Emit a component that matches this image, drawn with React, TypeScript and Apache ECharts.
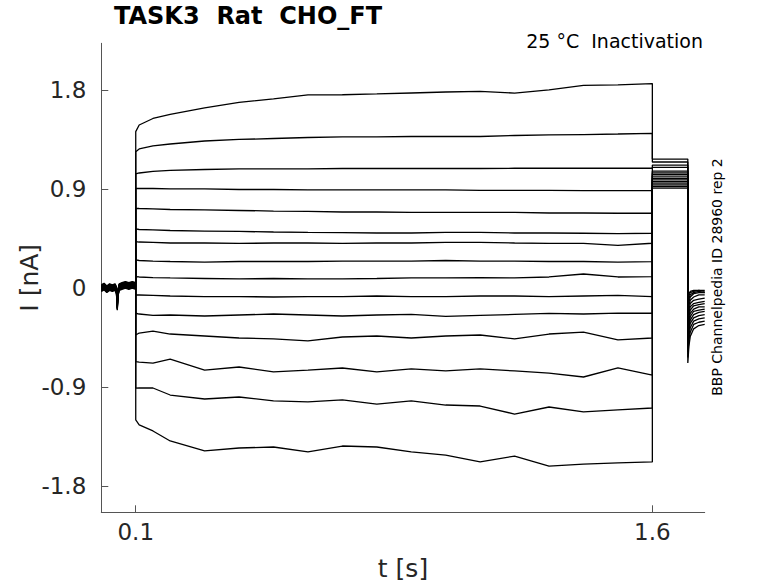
import React, { useEffect, useRef } from "react";
import * as echarts from "echarts";

// ---- time bases (s) ----
const T_PRE = [0, 0.008, 0.016, 0.024, 0.032, 0.04, 0.044, 0.0465, 0.048, 0.052, 0.06, 0.07, 0.08, 0.09, 0.1];
const T_PULSE = [0.1, 0.11, 0.15, 0.2, 0.3, 0.4, 0.5, 0.6, 0.7, 0.8, 0.9, 1.0, 1.1, 1.2, 1.3, 1.4, 1.5, 1.6];
const T_TAIL_END = 1.703;
const T_POST = [1.703, 1.706, 1.71, 1.72, 1.735, 1.752];

// ---- holding current before the pulse (nA) ----
const PRE_BASE = [0.0, 0.015, -0.01, 0.01, 0.0, 0.01, -0.02, -0.17, -0.05, 0.01, 0.02, 0.03, 0.02, 0.03, 0.02];
const HOLD_OFFSET = [0.03, -0.02, 0.01, 0.02, -0.03, 0.0, 0.025, -0.01, 0.015, -0.025, 0.005, 0.02, -0.015, 0.01, -0.005];

// ---- pulse currents (nA), one list per sweep, at T_PULSE ----
const SWEEP_1 = [1.424, 1.485, 1.544, 1.581, 1.64, 1.69, 1.722, 1.758, 1.76, 1.767, 1.776, 1.785, 1.79, 1.775, 1.805, 1.845, 1.85, 1.862];
const SWEEP_2 = [1.242, 1.267, 1.294, 1.312, 1.339, 1.353, 1.362, 1.371, 1.376, 1.376, 1.38, 1.38, 1.38, 1.389, 1.394, 1.398, 1.403, 1.409];
const SWEEP_3 = [1.039, 1.048, 1.062, 1.071, 1.08, 1.085, 1.085, 1.085, 1.089, 1.089, 1.089, 1.089, 1.089, 1.091, 1.091, 1.091, 1.091, 1.091];
const SWEEP_4 = [0.909, 0.907, 0.907, 0.903, 0.903, 0.898, 0.898, 0.894, 0.894, 0.894, 0.894, 0.894, 0.889, 0.889, 0.889, 0.887, 0.887, 0.887];
const SWEEP_5 = [0.727, 0.725, 0.721, 0.716, 0.712, 0.707, 0.702, 0.698, 0.693, 0.693, 0.689, 0.689, 0.689, 0.689, 0.684, 0.684, 0.682, 0.682];
const SWEEP_6 = [0.539, 0.534, 0.53, 0.525, 0.52, 0.516, 0.511, 0.507, 0.505, 0.502, 0.502, 0.507, 0.507, 0.502, 0.502, 0.5, 0.497, 0.5];
const SWEEP_7 = [0.423, 0.42, 0.416, 0.411, 0.411, 0.407, 0.411, 0.411, 0.407, 0.411, 0.411, 0.416, 0.416, 0.411, 0.407, 0.407, 0.389, 0.409];
const SWEEP_8 = [0.257, 0.252, 0.247, 0.243, 0.238, 0.243, 0.243, 0.243, 0.247, 0.247, 0.247, 0.252, 0.247, 0.247, 0.243, 0.243, 0.238, 0.241];
const SWEEP_9 = [0.105, 0.102, 0.097, 0.093, 0.088, 0.084, 0.088, 0.084, 0.084, 0.088, 0.093, 0.093, 0.097, 0.093, 0.102, 0.129, 0.102, 0.105];
const SWEEP_10 = [-0.062, -0.062, -0.066, -0.071, -0.076, -0.076, -0.08, -0.076, -0.076, -0.071, -0.076, -0.076, -0.071, -0.071, -0.076, -0.071, -0.066, -0.076];
const SWEEP_11 = [-0.228, -0.235, -0.248, -0.244, -0.253, -0.244, -0.235, -0.244, -0.253, -0.244, -0.239, -0.257, -0.248, -0.239, -0.23, -0.235, -0.226, -0.228];
const SWEEP_12 = [-0.426, -0.408, -0.39, -0.417, -0.435, -0.453, -0.462, -0.48, -0.444, -0.435, -0.453, -0.435, -0.426, -0.462, -0.417, -0.399, -0.471, -0.453];
const SWEEP_13 = [-0.669, -0.672, -0.681, -0.645, -0.745, -0.717, -0.762, -0.745, -0.726, -0.762, -0.735, -0.753, -0.735, -0.753, -0.772, -0.808, -0.726, -0.79];
const SWEEP_14 = [-0.909, -0.908, -0.908, -0.972, -1.008, -0.99, -1.026, -1.035, -1.017, -1.054, -1.026, -1.063, -1.072, -1.145, -1.081, -1.126, -1.108, -1.09];
const SWEEP_15 = [-1.199, -1.244, -1.299, -1.39, -1.481, -1.454, -1.445, -1.49, -1.436, -1.445, -1.49, -1.518, -1.581, -1.527, -1.618, -1.6, -1.59, -1.581];
const SWEEPS = [SWEEP_1, SWEEP_2, SWEEP_3, SWEEP_4, SWEEP_5, SWEEP_6, SWEEP_7, SWEEP_8, SWEEP_9, SWEEP_10, SWEEP_11, SWEEP_12, SWEEP_13, SWEEP_14, SWEEP_15];

// ---- test-pulse level between 1.6 s and 1.703 s (nA) ----
const TAIL_LEVEL = [1.175, 1.148, 1.12, 1.1, 1.065, 1.05, 1.035, 1.02, 1.0, 0.985, 0.97, 0.955, 0.94, 0.925, 0.91];

// ---- tail currents after the test pulse (nA), at T_POST ----
const POST_1 = [-0.1, -0.05, -0.03, -0.02, -0.02, -0.03];
const POST_2 = [-0.14, -0.07, -0.04, -0.03, -0.02, -0.02];
const POST_3 = [-0.18, -0.1, -0.06, -0.04, -0.03, -0.04];
const POST_4 = [-0.22, -0.13, -0.08, -0.05, -0.04, -0.04];
const POST_5 = [-0.26, -0.16, -0.11, -0.08, -0.06, -0.06];
const POST_6 = [-0.3, -0.2, -0.14, -0.11, -0.1, -0.09];
const POST_7 = [-0.34, -0.23, -0.17, -0.14, -0.13, -0.12];
const POST_8 = [-0.38, -0.26, -0.2, -0.16, -0.15, -0.14];
const POST_9 = [-0.42, -0.3, -0.23, -0.19, -0.17, -0.17];
const POST_10 = [-0.46, -0.33, -0.26, -0.21, -0.2, -0.19];
const POST_11 = [-0.5, -0.36, -0.29, -0.24, -0.22, -0.21];
const POST_12 = [-0.54, -0.4, -0.32, -0.27, -0.25, -0.24];
const POST_13 = [-0.58, -0.44, -0.36, -0.3, -0.28, -0.27];
const POST_14 = [-0.63, -0.48, -0.4, -0.33, -0.31, -0.3];
const POST_15 = [-0.68, -0.53, -0.44, -0.37, -0.34, -0.33];
const POSTS = [POST_1, POST_2, POST_3, POST_4, POST_5, POST_6, POST_7, POST_8, POST_9, POST_10, POST_11, POST_12, POST_13, POST_14, POST_15];

// ---- axis ticks ----
const X_TICKS = [0.1, 1.6];
const Y_TICKS = [-1.8, -0.9, 0, 0.9, 1.8];
const X_MIN = 0;
const X_MAX = 1.752;
const Y_MIN = -2.039;
const Y_MAX = 2.228;

const TITLE = "TASK3  Rat  CHO_FT";
const SUBTITLE = "25 °C  Inactivation";
const SIDE_NOTE = "BBP Channelpedia ID 28960 rep 2";

const FONT = "'DejaVu Sans', 'Noto Sans', sans-serif";

function buildSweep(i: number): number[][] {
  const pts: number[][] = [];
  T_PRE.forEach((t, k) => pts.push([t, PRE_BASE[k] + HOLD_OFFSET[i]]));
  T_PULSE.forEach((t, k) => pts.push([t, SWEEPS[i][k]]));
  pts.push([T_PULSE[T_PULSE.length - 1], TAIL_LEVEL[i]]);
  pts.push([T_TAIL_END, TAIL_LEVEL[i]]);
  T_POST.forEach((t, k) => pts.push([t, POSTS[i][k]]));
  return pts;
}

export default function App() {
  const ref = useRef<HTMLDivElement>(null);
  useEffect(() => {
    if (!ref.current) return;
    const chart = echarts.init(ref.current, null, { renderer: "svg" });
    const series = SWEEPS.map((_, i) => ({
      type: "line",
      data: buildSweep(i),
      showSymbol: false,
      symbol: "none",
      lineStyle: { color: "#000", width: 1.3 },
      z: 2,
    }));
    chart.setOption({
      animation: false,
      backgroundColor: "#fff",
      grid: {
        left: 101.3,
        top: 43.3,
        right: 73.3,
        bottom: 70.7,
        containLabel: false,
        outerBoundsMode: "none",
      },
      xAxis: {
        type: "value",
        min: X_MIN,
        max: X_MAX,
        name: "t [s]",
        nameLocation: "middle",
        nameGap: 44,
        nameMoveOverlap: false,
        nameTextStyle: { fontFamily: FONT, fontSize: 25, color: "#262626" },
        axisLine: { show: true, onZero: false, lineStyle: { color: "#555", width: 1 } },
        axisTick: { show: true, inside: true, length: 7, customValues: X_TICKS, lineStyle: { color: "#555" } },
        axisLabel: {
          customValues: X_TICKS,
          margin: 8,
          fontFamily: FONT,
          fontSize: 23,
          color: "#262626",
          formatter: (v: number) => String(v),
        },
        splitLine: { show: false },
      },
      yAxis: {
        type: "value",
        min: Y_MIN,
        max: Y_MAX,
        name: "I [nA]",
        nameLocation: "middle",
        nameGap: 59,
        nameMoveOverlap: false,
        nameRotate: 90,
        nameTextStyle: { fontFamily: FONT, fontSize: 25, color: "#262626" },
        axisLine: { show: true, onZero: false, lineStyle: { color: "#555", width: 1 } },
        axisTick: { show: true, inside: true, length: 7, customValues: Y_TICKS, lineStyle: { color: "#555" } },
        axisLabel: {
          customValues: Y_TICKS,
          margin: 15,
          fontFamily: FONT,
          fontSize: 23,
          color: "#262626",
          formatter: (v: number) => String(v),
        },
        splitLine: { show: false },
      },
      graphic: [
        {
          type: "text",
          left: 114,
          top: 4,
          style: { text: TITLE, fontFamily: FONT, fontSize: 24, fontWeight: "bold", fill: "#000" },
        },
        {
          type: "text",
          x: 703,
          y: 41,
          style: {
            text: SUBTITLE,
            fontFamily: FONT,
            fontSize: 19,
            fill: "#000",
            align: "right",
            verticalAlign: "middle",
            textAlign: "right",
            textVerticalAlign: "middle",
          },
        },
        {
          type: "text",
          x: 717,
          y: 277,
          rotation: Math.PI / 2,
          style: {
            text: SIDE_NOTE,
            fontFamily: FONT,
            fontSize: 14,
            fill: "#000",
            align: "center",
            verticalAlign: "middle",
            textAlign: "center",
            textVerticalAlign: "middle",
          },
        },
      ],
      series,
    });
    return () => chart.dispose();
  }, []);
  return (
    <div
      ref={ref}
      style={{ position: "absolute", left: 0, top: 0, width: 778, height: 583, background: "#fff" }}
    />
  );
}
